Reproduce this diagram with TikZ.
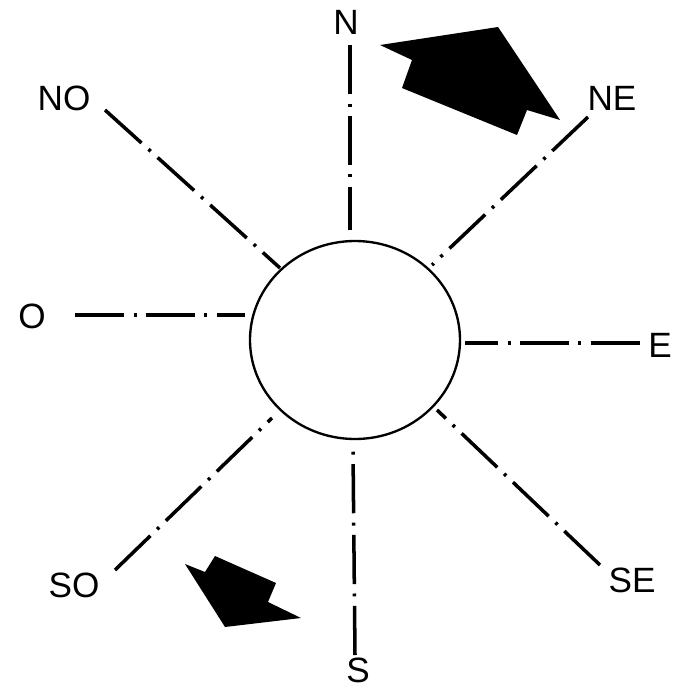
\documentclass[tikz,border=0pt]{standalone}
\usepackage{fontspec}
\setmainfont{Liberation Sans}
\usetikzlibrary{shapes.geometric}
\definecolor{inkBlack}{RGB}{0,0,0}

\tikzset{
  compassLabel/.style={text=inkBlack,inner sep=0pt,font=\fontsize{30}{30}\selectfont},
  rayLine/.style={draw=inkBlack,line width=3pt,dash pattern=on 42pt off 8pt on 2.5pt off 8pt},
  windArrow/.style={fill=inkBlack,draw=none}
}

\begin{document}
\begin{tikzpicture}[x=0.03cm,y=-0.03cm]
\path[use as bounding box] (0,0) rectangle (689,691);
\node[ellipse,draw=inkBlack,line width=2pt,minimum width=6.3cm,minimum height=5.94cm,inner sep=0pt] (hub) at (355,340) {};

% direction labels
\node[compassLabel] (lblN) at (346,22) {N};
\node[compassLabel] (lblNE) at (612,98) {NE};
\node[compassLabel] (lblE) at (660,345) {E};
\node[compassLabel] (lblSE) at (632,580) {SE};
\node[compassLabel] (lblS) at (358,670) {S};
\node[compassLabel] (lblSO) at (74,585) {SO};
\node[compassLabel] (lblO) at (32,316) {O};
\node[compassLabel] (lblNO) at (64,98) {NO};

% ends of the rays
\coordinate (outN) at (350,45);   \coordinate (inN) at (350,230);
\coordinate (outNE) at (588,117); \coordinate (inNE) at (432,265);
\coordinate (outE) at (640,343);  \coordinate (inE) at (465,343);
\coordinate (outSE) at (600,565); \coordinate (inSE) at (437,410);
\coordinate (outS) at (355,655);  \coordinate (inS) at (353,450);
\coordinate (outSO) at (115,570); \coordinate (inSO) at (272,418);
\coordinate (outO) at (75,315);   \coordinate (inO) at (245,315);
\coordinate (outNO) at (105,110); \coordinate (inNO) at (280,268);

\draw[rayLine] (outN) -- (inN);
\draw[rayLine] (outNE) -- (inNE);
\draw[rayLine] (outE) -- (inE);
\draw[rayLine] (outSE) -- (inSE);
\draw[rayLine] (outS) -- (inS);
\draw[rayLine] (outSO) -- (inSO);
\draw[rayLine] (outO) -- (inO);
\draw[rayLine] (outNO) -- (inNO);

% wind arrows
\fill[windArrow] (380,45) -- (498,27) -- (560,120) -- (527,110) -- (517,135) -- (402,88) -- (412,60) -- cycle;
\fill[windArrow] (185,564) -- (205,572) -- (215,556) -- (276,583) -- (268,602) -- (301,618) -- (225,627) -- cycle;
\end{tikzpicture}
\end{document}
